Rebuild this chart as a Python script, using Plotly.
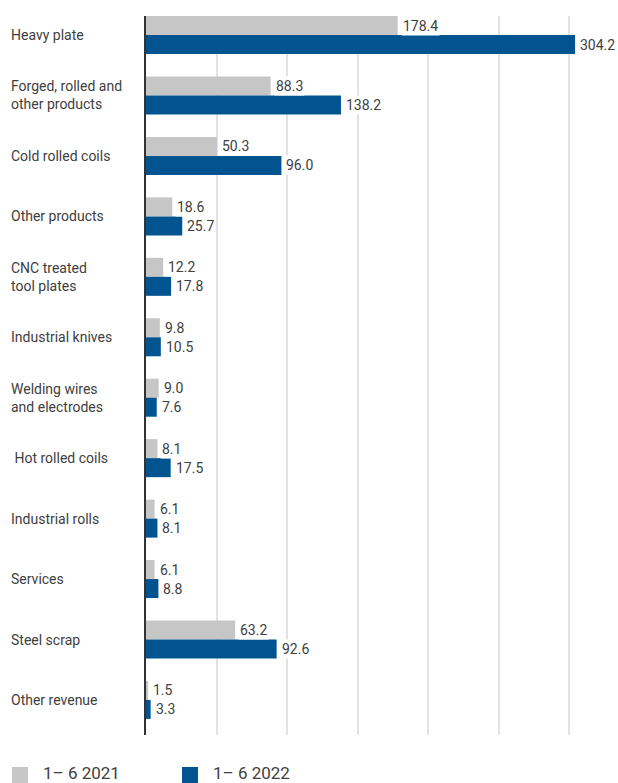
import plotly.graph_objects as go

categories = ["Heavy plate", "Forged, rolled and<br>other products", "Cold rolled coils",
              "Other products", "CNC treated<br>tool plates", "Industrial knives",
              "Welding wires<br>and electrodes", "\u00a0Hot rolled coils", "Industrial rolls",
              "Services", "Steel scrap", "Other revenue"]
series_names = ["1\u2013 6 2021", "1\u2013 6 2022"]
values_2021 = [178.4, 88.3, 50.3, 18.6, 12.2, 9.8, 9.0, 8.1, 6.1, 6.1, 63.2, 1.5]
values_2022 = [304.2, 138.2, 96.0, 25.7, 17.8, 10.5, 7.6, 17.5, 8.1, 8.8, 92.6, 3.3]

GREY = "#c6c6c6"
BLUE = "#01548f"
TEXT = "#404040"
FONT = "Roboto"

W, H = 618, 783
ML, MR, MT, MB = 146, 2, 16, 48
PW, PH = W - ML - MR, H - MT - MB

fig = go.Figure()
fig.add_trace(go.Bar(y=categories, x=values_2021, orientation="h", name=series_names[0],
                     marker=dict(color=GREY, line=dict(width=0)), showlegend=False))
fig.add_trace(go.Bar(y=categories, x=values_2022, orientation="h", name=series_names[1],
                     marker=dict(color=BLUE, line=dict(width=0)), showlegend=False))

annotations = []
for cat, v1, v2 in zip(categories, values_2021, values_2022):
    for v, ys in ((v1, 9.5), (v2, -9.5)):
        annotations.append(dict(x=v, y=cat, xref="x", yref="y", text=f"{v:.1f}",
                                xanchor="left", yanchor="middle", xshift=3, yshift=ys,
                                showarrow=False, bgcolor="white", borderpad=1,
                                font=dict(family=FONT, size=14, color=TEXT)))
    annotations.append(dict(x=-(ML - 9) / PW, y=cat, xref="paper", yref="y", text=cat,
                            xanchor="left", yanchor="middle", align="left", showarrow=False,
                            font=dict(family=FONT, size=14, color=TEXT)))

# legend (manual)
shapes = []
leg = [(12, GREY, series_names[0], 41), (182, BLUE, series_names[1], 211)]
for sx, col, name, tx in leg:
    shapes.append(dict(type="rect", xref="paper", yref="paper",
                       x0=(sx - ML) / PW, x1=(sx + 16 - ML) / PW,
                       y0=-(783 - MT - PH) / PH, y1=-(767 - MT - PH) / PH,
                       fillcolor=col, line=dict(width=0), layer="above"))
    annotations.append(dict(x=(tx - ML) / PW, y=-(773 - MT - PH) / PH, xref="paper", yref="paper",
                            text=name, xanchor="left", yanchor="middle", showarrow=False,
                            font=dict(family=FONT, size=17, color=TEXT)))

fig.update_layout(
    width=W, height=H,
    margin=dict(l=ML, r=MR, t=MT, b=MB, pad=0),
    paper_bgcolor="white", plot_bgcolor="white",
    barmode="group", bargap=0.371, bargroupgap=0,
    annotations=annotations, shapes=shapes,
    showlegend=False,
    xaxis=dict(range=[0, PW / (70.53 / 50)], dtick=50, tick0=0, showgrid=True,
               gridcolor="#e2e2e2", gridwidth=1.5, showticklabels=False, zeroline=False,
               showline=False, ticks=""),
    yaxis=dict(range=[11.58, -0.315], showticklabels=False, showgrid=False,
               showline=True, linecolor="#333333", linewidth=2, ticks="", zeroline=False),
    font=dict(family=FONT, color=TEXT),
)

fig.write_html("out.html", config={"displayModeBar": False},
               post_script="document.body.style.margin='0';")
